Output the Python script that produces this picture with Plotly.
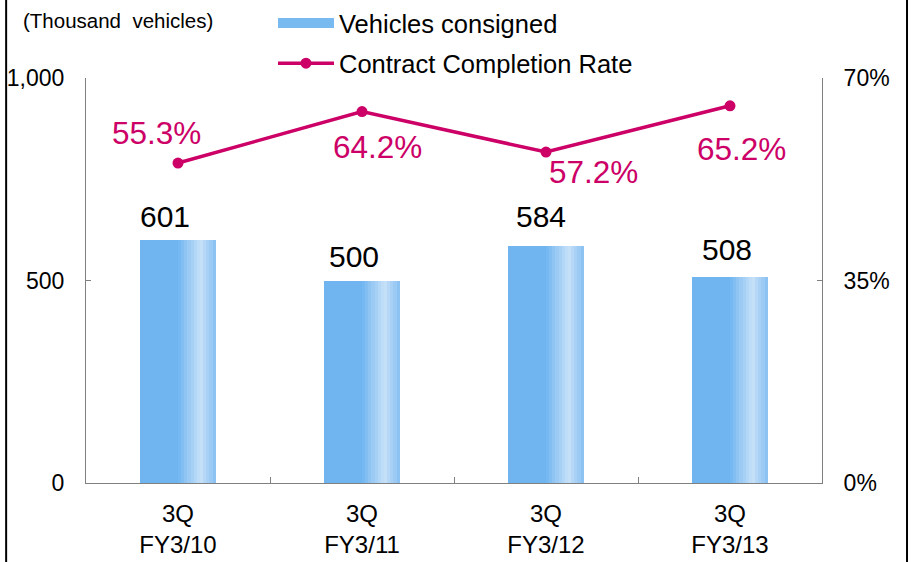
import plotly.graph_objects as go
from plotly.subplots import make_subplots

categories = ["3Q<br>FY3/10", "3Q<br>FY3/11", "3Q<br>FY3/12", "3Q<br>FY3/13"]
vehicles = [601, 500, 584, 508]
rates = [55.3, 64.2, 57.2, 65.2]
left_ticks = [0, 500, 1000]
left_tick_text = ["0", "500", "1,000"]
right_ticks = [0, 35, 70]
right_tick_text = ["0%", "35%", "70%"]

FONT = "Liberation Sans, Arial, sans-serif"
MAGENTA = "#cc0066"
BASE = (112, 181, 240)
LIGHT = (200, 225, 248)

fig = make_subplots(specs=[[{"secondary_y": True}]])

# Bars drawn as thin vertical strips to imitate the gradient fill
BAR_W = 0.41
N = 24


def shade(t):
    if t < 0.5:
        k = 0.0
    elif t < 0.8:
        k = (t - 0.5) / 0.3
    else:
        k = 1.0 - 0.75 * (t - 0.8) / 0.2
    c = [round(b + (l - b) * k) for b, l in zip(BASE, LIGHT)]
    return "rgb(%d,%d,%d)" % tuple(c)


for i in range(N):
    t = (i + 0.5) / N
    fig.add_trace(
        go.Bar(
            x=categories,
            y=vehicles,
            width=BAR_W / N * 1.08,
            offset=-BAR_W / 2 + i * BAR_W / N,
            marker=dict(color=shade(t), line=dict(width=0)),
            name="Vehicles consigned",
            showlegend=False,
            hoverinfo="skip" if i > 0 else None,
        ),
        secondary_y=False,
    )

# legend-only entry giving a wide rectangular swatch for the bars
fig.add_trace(
    go.Scatter(
        x=[None], y=[None], mode="lines",
        line=dict(color="rgb(120,185,240)", width=13),
        name="Vehicles consigned", legendgroup="a", showlegend=True,
    ),
    secondary_y=False,
)

fig.add_trace(
    go.Scatter(
        x=categories,
        y=rates,
        mode="lines+markers",
        line=dict(color=MAGENTA, width=3.5),
        marker=dict(color=MAGENTA, size=11),
        name="Contract Completion Rate",
        legendgroup="b",
    ),
    secondary_y=True,
)

# value labels
bar_shift = [(-13, 23), (-8, 24), (-5, 30), (-3, 28)]
for c, v, (dx, dy) in zip(categories, vehicles, bar_shift):
    fig.add_annotation(
        x=c, y=v, yref="y", text=str(v), showarrow=False,
        xshift=dx, yshift=dy, yanchor="middle",
        font=dict(family=FONT, size=30, color="#000000"),
    )

rate_shift = [(-22, 30), (15, -35), (47, -20), (11, -43)]
for c, r, (dx, dy) in zip(categories, rates, rate_shift):
    fig.add_annotation(
        x=c, y=r, yref="y2", text=f"{r}%", showarrow=False,
        xshift=dx, yshift=dy, yanchor="middle",
        font=dict(family=FONT, size=31.5, color=MAGENTA),
    )

fig.add_annotation(
    xref="paper", yref="paper", x=-0.088, y=1.143, xanchor="left", yanchor="middle",
    text="(Thousand&nbsp; vehicles)", showarrow=False,
    font=dict(family=FONT, size=20.5, color="#000000"),
)

# frame lines at left and right edges
for px in (-0.1085, 1.1155):
    fig.add_shape(type="line", xref="paper", yref="paper", x0=px, x1=px, y0=-0.2, y1=1.2,
                  line=dict(color="#000000", width=2))

fig.update_layout(
    width=913,
    height=562,
    margin=dict(l=86, r=91, t=78, b=79, autoexpand=False),
    paper_bgcolor="white",
    plot_bgcolor="white",
    barmode="overlay",
    bargap=0,
    font=dict(family=FONT, size=23, color="#000000"),
    legend=dict(
        xref="container", yref="container",
        x=273 / 913, y=1.0, xanchor="left", yanchor="top",
        font=dict(family=FONT, size=25.5, color="#000000"),
        itemwidth=56, tracegroupgap=4, traceorder="grouped",
        bgcolor="rgba(0,0,0,0)",
    ),
    showlegend=True,
)

fig.update_xaxes(
    type="category", range=[-0.5, 3.5], automargin=False, domain=[0, 1],
    showline=True, linecolor="#808080", linewidth=1,
    ticks="inside", ticklen=6, tickcolor="#808080", tickson="boundaries",
    showgrid=False, tickfont=dict(family=FONT, size=24), zeroline=False,
    ticklabelstandoff=9,
)
fig.update_yaxes(
    range=[0, 1000], tickvals=left_ticks, ticktext=left_tick_text, automargin=False,
    showline=True, linecolor="#808080", linewidth=1,
    ticks="inside", ticklen=5, tickcolor="#808080",
    showgrid=False, zeroline=False, tickfont=dict(family=FONT, size=23),
    ticklabelstandoff=16,
    secondary_y=False,
)
fig.update_yaxes(
    range=[0, 70], tickvals=right_ticks, ticktext=right_tick_text, automargin=False,
    showline=True, linecolor="#808080", linewidth=1,
    ticks="inside", ticklen=5, tickcolor="#808080",
    showgrid=False, zeroline=False, tickfont=dict(family=FONT, size=23),
    ticklabelstandoff=16,
    secondary_y=True,
)

fig.write_html(
    "out.html",
    config={"displayModeBar": False},
    post_script="document.body.style.margin='0';",
)
